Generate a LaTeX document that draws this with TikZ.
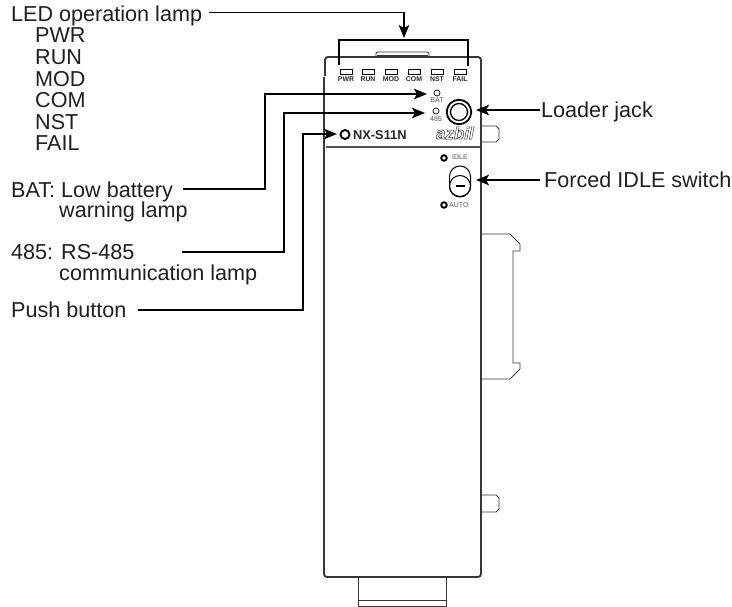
\documentclass[tikz,border=0pt]{standalone}
\usepackage{fontspec}
\setmainfont{Liberation Sans}
\usepackage{tikz}
\usetikzlibrary{positioning,arrows.meta}
\definecolor{bodygray}{RGB}{55,55,55}
\definecolor{panelgray}{RGB}{85,85,85}
\tikzset{
  callout/.style = {anchor=base west, inner sep=0pt, font=\fontsize{21.6}{24}\selectfont, text=black!88},
  ptr/.style     = {-{Stealth[length=13pt,width=10.5pt,inset=3pt]}, line width=1.8pt, black},
  lampbox/.style = {draw, line width=.8pt, minimum width=12pt, minimum height=5pt, inner sep=0pt},
  lamplbl/.style = {font=\fontsize{6.9}{7}\selectfont\bfseries, inner sep=0pt, text=black!85},
  smalllbl/.style= {font=\fontsize{7}{7}\selectfont, inner sep=0pt, text=panelgray},
  lamp/.style    = {circle, draw, line width=.7pt, minimum size=6pt, inner sep=0pt},
  ring/.style    = {circle, draw, line width=1.9pt, minimum size=5.5pt, inner sep=0pt},
  outline/.style = {line width=1.9pt, draw=bodygray},
  thinline/.style= {line width=.9pt, draw=bodygray},
}
\newcommand{\hollow}[1]{\special{pdf:code q 1 Tr 0.45 w}#1\special{pdf:code 0 Tr Q}}
\begin{document}
\begin{tikzpicture}[x=1pt,y=-1pt]
  \useasboundingbox (0,0) rectangle (732,607);
  % left labels
  \node[callout] (led) at (11,21.5) {LED operation lamp};
  \node[callout] (pwr) at (35,43) {PWR};
  \node[callout] (run) at (35,65) {RUN};
  \node[callout] (mod) at (35,87) {MOD};
  \node[callout] (com) at (35,108) {COM};
  \node[callout] (nst) at (35,130) {NST};
  \node[callout] (fail) at (35,151) {FAIL};
  \node[callout] (bat) at (11,198) {BAT: Low battery};
  \node[callout] (batb) at (59,218) {warning lamp};
  \node[callout] (rs) at (11,260) {485: RS-485};
  \node[callout] (rsb) at (59,280) {communication lamp};
  \node[callout] (push) at (11,318) {Push button};
  \node[callout] (jack) at (541,118) {Loader jack};
  \node[callout] (idlesw) at (544,188) {Forced IDLE switch};
  % case
  \draw[outline, rounded corners=3pt] (324,77) -- (324,577) -- (481,577) -- (481,57) -- (325,57) -- (325,76);
  \draw[line width=1.3pt, draw=panelgray] (326,147) -- (480,147);
  \draw[thinline] (376,57) -- (376,53) -- (378,52) -- (427,52) -- (429,53) -- (429,57);
  \draw[thinline] (377,55.5) -- (428,55.5);
  \draw[thinline] (358,577) -- (358,606) -- (446,606) -- (446,577);
  \draw[thinline] (358,600) -- (446,600);
  \draw[thinline] (481,126) -- (496,126) -- (499,129) -- (499,139) -- (496,142) -- (481,142);
  \draw[thinline] (481,495) -- (496,495) -- (499,498) -- (499,509) -- (496,512) -- (481,512);
  \draw[thinline] (481,234) -- (510,234) -- (520,244) -- (520,251) -- (513,251) -- (513,363) -- (520,363) -- (520,369) -- (510,379) -- (481,379);
  % lamps
  \foreach \name/\xpos in {PWR/346,RUN/368,MOD/391,COM/414,NST/437,FAIL/460} {
    \node[lampbox] (box\name) at (\xpos,71.5) {};
    \node[lamplbl] (lbl\name) at (\xpos,79.5) {\name};
  }
  \node[lamp] (batlamp) at (437,93) {};
  \node[smalllbl] (batlbl) at (437,100.5) {BAT};
  \node[lamp] (rslamp) at (436,111) {};
  \node[smalllbl] (rslbl) at (436,119) {485};
  \node[circle, draw, line width=1.8pt, minimum size=24.5pt, inner sep=0pt] (jackout) at (459,112) {};
  \node[circle, draw, line width=1.3pt, minimum size=17pt, inner sep=0pt] (jackin) at (459,112) {};
  \node[circle, draw, line width=1.9pt, minimum size=9pt, inner sep=0pt] (btn) at (345,134.5) {};
  \node[anchor=west, inner sep=0pt, font=\fontsize{12.8}{14}\selectfont\bfseries, text=black!85] (model) at (353,135) {NX-S11N};
  \node[anchor=east, inner sep=0pt, font=\fontsize{17}{18}\selectfont\bfseries\itshape, text=black!85] (logo) at (474,133) {\hollow{azbil}};
  % switch
  \node[ring] (idlelamp) at (444,158) {};
  \node[smalllbl, anchor=west] (idlelbl) at (452,157.5) {IDLE};
  \node[ring] (autolamp) at (444,205) {};
  \node[smalllbl, anchor=west] (autolbl) at (449,205) {AUTO};
  \node[draw, line width=1pt, rounded corners=10.5pt, minimum width=21pt, minimum height=31pt, inner sep=0pt] (capsule) at (460,181.5) {};
  \node[circle, draw, line width=1pt, minimum size=21pt, inner sep=0pt] (knob) at (460,186) {};
  \draw[line width=1.1pt] ([xshift=-4.5pt]knob.center) -- ([xshift=4.5pt]knob.center);
  % connectors
  \coordinate (ledend) at (209,12.5);
  \coordinate (brackl) at (339,65);
  \coordinate (brackr) at (468,66);
  \coordinate (batend) at (183,189);
  \coordinate (rsend) at (182,252);
  \coordinate (pushend) at (138,310);
  \coordinate (jackend) at (540,110);
  \coordinate (idleend) at (540,180);
  \draw[ptr] (ledend) -- (404,12.5) -- (404,38);
  \draw[line width=1.8pt] (brackl) -- (339,40) -- (468,40) -- (brackr);
  \draw[ptr] (batend) -- (265,189) -- (265,94) -- (427,94);
  \draw[ptr] (rsend) -- (284,252) -- (284,113) -- (425,113);
  \draw[ptr] (pushend) -- (303,310) -- (303,134) -- (337,134);
  \draw[ptr] (jackend) -- (476,110);
  \draw[ptr] (idleend) -- (476,180);
\end{tikzpicture}
\end{document}
